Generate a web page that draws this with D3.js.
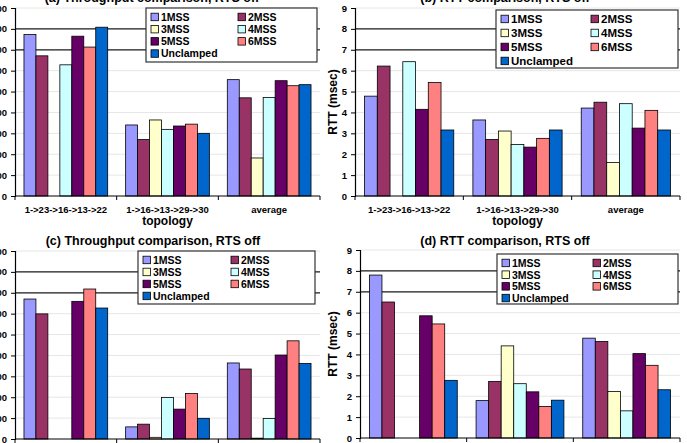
<!DOCTYPE html>
<html>
<head>
<meta charset="utf-8">
<script src="https://cdn.jsdelivr.net/npm/d3@7"></script>
<style>
  body { margin: 0; background: #fff; }
  text { font-family: "Liberation Sans", Arial, sans-serif; font-weight: bold; fill: #000; }
</style>
</head>
<body>
<div id="chart"></div>
<script>
// categories and series
var categories = ["1->23->16->13->22", "1->16->13->29->30", "average"];
var seriesNames = ["1MSS", "2MSS", "3MSS", "4MSS", "5MSS", "6MSS", "Unclamped"];
var seriesColors = ["#9999ff", "#993366", "#ffffcc", "#ccffff", "#660066", "#ff8080", "#0066cc"];

// values: one row per series, one column per category
var throughputRtsOn = [
  [773, 340, 557], [671, 270, 470], [0, 364, 182], [628, 319, 472],
  [765, 335, 552], [713, 344, 528], [808, 300, 533]];
var rttRtsOn = [
  [4.78, 3.64, 4.21], [6.22, 2.71, 4.49], [0, 3.11, 1.60], [6.43, 2.47, 4.42],
  [4.15, 2.34, 3.25], [5.43, 2.76, 4.10], [3.16, 3.16, 3.16]];
var throughputRtsOff = [
  [670, 58, 364], [599, 71, 335], [0, 8, 4], [0, 199, 98],
  [659, 143, 402], [718, 218, 470], [627, 99, 362]];
var rttRtsOff = [
  [7.80, 1.79, 4.78], [6.51, 2.71, 4.62], [0, 4.41, 2.23], [0, 2.60, 1.30],
  [5.85, 2.21, 4.04], [5.46, 1.51, 3.48], [2.76, 1.81, 2.31]];

var throughputTicks = [0, 100, 200, 300, 400, 500, 600, 700, 800, 900];
var rttTicks = [0, 1, 2, 3, 4, 5, 6, 7, 8, 9];

var svg = d3.select("#chart").append("svg")
  .attr("width", 687).attr("height", 443);

function drawChart(c) {
  var g = svg.append("g");
  var x = d3.scaleBand().domain(categories).range([c.x0, c.x1]).padding(0);
  var xs = d3.scaleBand().domain(d3.range(seriesNames.length))
    .range([0, x.bandwidth()]).paddingInner(0).paddingOuter(0.75);
  var y = d3.scaleLinear().domain([0, d3.max(c.ticks)]).range([c.yBottom, c.yTop]);

  // light gridlines, dark ones at the 7th and 8th levels
  g.selectAll(".grid").data(c.ticks.slice(1)).enter().append("line")
    .attr("x1", c.x0).attr("x2", c.x1)
    .attr("y1", d => y(d)).attr("y2", d => y(d))
    .attr("stroke", (d, i) => (i == 6 || i == 7) ? "#1a1a1a" : "#e6e6e6")
    .attr("stroke-width", (d, i) => (i == 6 || i == 7) ? 1.2 : 1);

  // bars
  seriesNames.forEach(function (s, si) {
    g.selectAll(".b" + si).data(c.values[si].map((v, ci) => ({v: v, cat: categories[ci]}))
        .filter(d => d.v > 0))
      .enter().append("rect")
      .attr("x", d => x(d.cat) + xs(si))
      .attr("width", xs.bandwidth())
      .attr("y", d => y(d.v))
      .attr("height", d => y(0) - y(d.v))
      .attr("fill", seriesColors[si])
      .attr("stroke", "#000").attr("stroke-width", 0.8);
  });

  // y axis
  var ya = g.append("g").attr("transform", "translate(" + c.x0 + ",0)")
    .call(d3.axisLeft(y).tickValues(c.ticks).tickSize(4).tickPadding(4));
  ya.select(".domain").attr("stroke", "#000").attr("stroke-width", 1.2);
  ya.selectAll("text").style("font-size", "9.5px").style("font-weight", "bold")
    .style("font-family", "Liberation Sans, Arial, sans-serif");

  // x axis with ticks on category boundaries
  var xa = g.append("g").attr("transform", "translate(0," + c.yBottom + ")");
  xa.append("line").attr("x1", c.x0).attr("x2", c.x1).attr("stroke", "#000").attr("stroke-width", 1.2);
  var bounds = categories.map(d => x(d)).concat([c.x1]);
  xa.selectAll(".t").data(bounds).enter().append("line")
    .attr("x1", d => d).attr("x2", d => d).attr("y1", 0).attr("y2", 4)
    .attr("stroke", "#000");
  xa.selectAll(".lab").data(categories).enter().append("text")
    .attr("x", d => x(d) + x.bandwidth() / 2).attr("y", 16.5)
    .attr("text-anchor", "middle").style("font-size", "9.5px").text(d => d);
  xa.append("text").attr("x", (c.x0 + c.x1) / 2).attr("y", 29)
    .attr("text-anchor", "middle").style("font-size", "12px").text("topology");

  // title
  g.append("text").attr("x", c.titleX).attr("y", c.titleY)
    .attr("text-anchor", "middle").style("font-size", "12.5px").text(c.title);

  // y title
  if (c.yTitle) {
    g.append("text")
      .attr("transform", "translate(" + c.yTitleX + "," + ((c.yTop + c.yBottom) / 2) + ") rotate(-90)")
      .attr("text-anchor", "middle").style("font-size", "12px").text(c.yTitle);
  }

  // legend
  var L = c.legend;
  var lg = g.append("g").attr("transform", "translate(" + L.x + "," + L.y + ")");
  lg.append("rect").attr("width", L.w).attr("height", L.h)
    .attr("fill", "#fff").attr("stroke", "#333").attr("stroke-width", 1.2);
  seriesNames.forEach(function (s, i) {
    var col = i % 2, row = Math.floor(i / 2);
    var ex = 5 + col * L.colGap, ey = 9 + row * L.rowH;
    lg.append("rect").attr("x", ex).attr("y", ey - 3.8).attr("width", 7.5).attr("height", 7.5)
      .attr("fill", seriesColors[i]).attr("stroke", "#000").attr("stroke-width", 0.8);
    lg.append("text").attr("x", ex + 10).attr("y", ey + 3.8)
      .style("font-size", L.font + "px").text(s);
  });
}

drawChart({title: "(a) Throughput comparison, RTS off", titleX: 152, titleY: 2,
  values: throughputRtsOn, ticks: throughputTicks,
  x0: 15, x1: 320, yTop: 8, yBottom: 196,
  legend: {x: 146, y: 8, w: 171, h: 54, colGap: 87, rowH: 12.2, font: 10.5}});
drawChart({title: "(b) RTT comparison, RTS off", titleX: 505, titleY: 2,
  values: rttRtsOn, ticks: rttTicks, yTitle: "RTT (msec)", yTitleX: 337,
  x0: 355, x1: 680, yTop: 8, yBottom: 196,
  legend: {x: 496, y: 10, w: 182, h: 58, colGap: 90, rowH: 14, font: 11.5}});
drawChart({title: "(c) Throughput comparison, RTS off", titleX: 153, titleY: 245,
  values: throughputRtsOff, ticks: throughputTicks,
  x0: 15, x1: 320, yTop: 251, yBottom: 439,
  legend: {x: 138, y: 251, w: 177, h: 53, colGap: 88, rowH: 12, font: 10.5}});
drawChart({title: "(d) RTT comparison, RTS off", titleX: 505, titleY: 245,
  values: rttRtsOff, ticks: rttTicks, yTitle: "RTT (msec)", yTitleX: 337,
  x0: 360, x1: 680, yTop: 250, yBottom: 438,
  legend: {x: 497, y: 254, w: 181, h: 50, colGap: 91, rowH: 11.7, font: 10.5}});
</script>
</body>
</html>
